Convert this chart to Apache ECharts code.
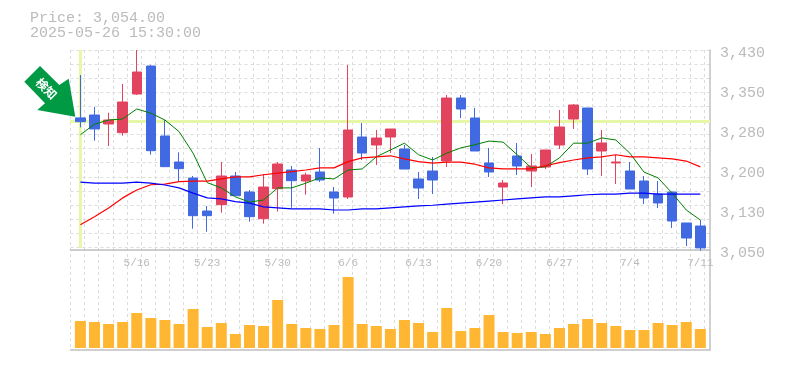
<!DOCTYPE html>
<html>
<head>
<meta charset="utf-8">
<script src="https://cdn.jsdelivr.net/npm/echarts@6/dist/echarts.min.js"></script>
<style>html,body{margin:0;padding:0;background:#fff}#c{width:785px;height:370px}</style>
</head>
<body>
<div id="c"></div>
<script>
const dates = ['5/12','5/13','5/14','5/15','5/16','5/19','5/20','5/21','5/22','5/23','5/26','5/27','5/28','5/29','5/30','6/2','6/3','6/4','6/5','6/6','6/9','6/10','6/11','6/12','6/13','6/16','6/17','6/18','6/19','6/20','6/23','6/24','6/25','6/26','6/27','6/30','7/1','7/2','7/3','7/4','7/7','7/8','7/9','7/10','7/11'];
const opens  = [3301,3306.5,3289.4,3272.9,3346.4,3399.6,3266.6,3217.2,3186.8,3124.1,3136.1,3190.6,3160.2,3109.5,3166.5,3202,3181.1,3198.2,3160.2,3150.7,3264.7,3249.5,3264.7,3241.9,3184.9,3200.1,3219.1,3338.8,3300.8,3215.3,3169.7,3228.6,3200.1,3207.7,3249.5,3298.9,3319.8,3238.1,3215.3,3200.1,3181.1,3156.4,3160.2,3101.3,3095.6];
const closes = [3293.8,3280,3297,3331.2,3388.2,3238.7,3208.3,3204.5,3115.2,3115.2,3190.6,3153.2,3113.3,3169.7,3213.4,3181.7,3192.5,3183,3148.8,3278,3234.3,3262.8,3279.9,3203.9,3167.8,3183,3338.8,3317.9,3238.1,3198.2,3177.3,3209.6,3209.6,3240,3283.7,3325.5,3203.9,3253.3,3217.2,3165.9,3148.8,3139.3,3105.1,3072.8,3054];
const lows   = [3283,3257.7,3247.6,3267.2,3344.5,3231.1,3208.3,3179.8,3090.5,3084.8,3120.9,3153.2,3103.8,3100,3122.8,3130.4,3155.1,3179.2,3119,3146.9,3221,3211.5,3234.3,3203.9,3146.9,3156.4,3207.7,3300.8,3238.1,3188.7,3137.4,3192.5,3169.7,3203.9,3241.9,3279.9,3192.5,3190.6,3175.4,3165.9,3137.4,3129.8,3091.8,3057.6,3048.7];
const highs  = [3382.5,3321.7,3310.9,3365.4,3430,3401.5,3297,3235.6,3190.6,3133.6,3217.2,3198.2,3164,3194.4,3217.2,3209.6,3196.9,3243.8,3169.7,3401.5,3291.3,3278,3279.9,3249.5,3198.2,3226.7,3344.5,3344.5,3319.8,3243.8,3183,3253.3,3232.4,3240,3316,3327.4,3319.8,3278,3230.5,3217.2,3190.6,3181.1,3160.2,3101.3,3107];
const maShort = [3269,3289,3297,3299,3318,3310,3297,3275,3234,3178,3168,3151,3141,3145,3168,3168,3177,3187,3185,3202,3204,3227,3240,3253,3231,3221,3234,3244,3250,3257,3255,3231,3206,3208,3225,3253,3253,3263,3259,3234,3198,3187,3158,3126,3107];
const maMid = [3098,3113,3130,3149,3164,3174,3175,3180,3181,3181,3185,3189,3189,3193,3196,3199,3202,3206,3206,3218,3225,3227,3229,3223,3218,3215,3217,3217,3213,3206,3204,3204,3204,3210,3216,3221,3225,3227,3231,3227,3227,3225,3223,3219,3208];
const maLong = [3179,3177,3177,3177,3179,3177,3173.5,3168,3158,3149,3147,3142,3139,3132,3130,3128,3128,3128,3126,3126,3128,3128,3130,3132,3134,3135,3137,3139,3141,3143,3145,3147,3149,3151,3151,3153,3155,3156,3156,3158,3158,3156,3156,3156,3156];
const volumes = [27,26,24,26,35,30,28,24,39,21,25,14,23,22,48,24,20,19,23,71,24,22,19,28,25,16,40,17,20,33,16,15,16,14,20,24,29,25,22,18,18,25,23,26,19];
const priceTicks = [3050,3126,3202,3278,3354,3430];
const priceTickLabels = ['3,050','3,130','3,200','3,280','3,350','3,430'];
const infoPrice = 'Price: 3,054.00';
const infoTime = '2025-05-26 15:30:00';
const detectLabel = '検知';
const crossPrice = 3294;
const crossIndex = 0;

const MONO = '"Liberation Mono","DejaVu Sans Mono",monospace';
const GRAY = '#c0c0c0';
const TXT = '#bbbbbb';
const RED = '#e2435f';
const BLUE = '#4169e1';
const dashLine = {show:true,lineStyle:{color:'#dcdcdc',type:[3,3],width:1}};
const band = 14.09, n = dates.length;
const hidden = {show:false};
const ohlc = dates.map((_,i)=>[opens[i],closes[i],lows[i],highs[i]]);

const chart = echarts.init(document.getElementById('c'),null,{renderer:'canvas'});
chart.setOption({
  animation:false,
  backgroundColor:'#fff',
  grid:[
    {left:73.35,top:50,width:band*n,height:200},
    {left:73.35,top:260,width:band*n,height:88},
    {left:70.5,top:50,width:band*n,height:300},
    {left:70.5,top:50,width:639.5,height:200},
    {left:70.5,top:50,width:639.5,height:300}
  ],
  xAxis:[
    {type:'category',gridIndex:0,data:dates,boundaryGap:true,axisLine:hidden,axisTick:hidden,splitLine:hidden,
     axisLabel:{show:true,color:TXT,fontFamily:MONO,fontSize:11,margin:8,
       interval:(i)=>i%5===4}},
    {type:'category',gridIndex:1,data:dates,axisLine:hidden,axisTick:hidden,splitLine:hidden,axisLabel:hidden},
    {type:'category',gridIndex:2,data:dates,axisLine:hidden,axisTick:hidden,axisLabel:hidden,
     splitLine:Object.assign({interval:0},dashLine)},
    {type:'value',gridIndex:3,min:0,max:1,axisTick:hidden,axisLabel:hidden,splitLine:hidden,
     axisLine:{show:true,onZero:false,lineStyle:{color:GRAY,width:1.5}}},
    {type:'value',gridIndex:4,min:0,max:1,axisTick:hidden,axisLabel:hidden,splitLine:hidden,
     axisLine:{show:true,onZero:false,lineStyle:{color:GRAY,width:1.5}}}
  ],
  yAxis:[
    {type:'value',gridIndex:0,min:3050,max:3430,interval:76,position:'right',axisLine:hidden,axisTick:hidden,splitLine:hidden,axisLabel:hidden},
    {type:'value',gridIndex:1,min:0,max:88,axisLine:hidden,axisTick:hidden,splitLine:hidden,axisLabel:hidden},
    {type:'value',gridIndex:2,min:0,max:1,axisLine:hidden,axisTick:hidden,splitLine:hidden,axisLabel:hidden},
    {type:'value',gridIndex:3,inverse:true,min:0,max:200/band,interval:1,axisLine:hidden,axisTick:hidden,axisLabel:hidden,splitLine:dashLine},
    {type:'value',gridIndex:4,position:'right',min:0,max:1,axisTick:hidden,axisLabel:hidden,splitLine:hidden,
     axisLine:{show:true,onZero:false,lineStyle:{color:GRAY,width:1.5}}}
  ],
  series:[
    {type:'candlestick',xAxisIndex:0,yAxisIndex:0,data:ohlc,barWidth:10,clip:false,z:3,
     itemStyle:{color:RED,color0:BLUE,borderColor:RED,borderColor0:BLUE,borderWidth:1}},
    {type:'line',xAxisIndex:0,yAxisIndex:0,data:maShort,showSymbol:false,z:4,lineStyle:{color:'#008000',width:1}},
    {type:'line',xAxisIndex:0,yAxisIndex:0,data:maMid,showSymbol:false,z:4,lineStyle:{color:'#ff0000',width:1.2}},
    {type:'line',xAxisIndex:0,yAxisIndex:0,data:maLong,showSymbol:false,z:4,lineStyle:{color:'#0000ff',width:1.2}},
    {type:'bar',xAxisIndex:1,yAxisIndex:1,data:volumes,barWidth:11,z:3,itemStyle:{color:'#ffb733'}}
  ]
});
const cx = chart.convertToPixel({xAxisIndex:0},crossIndex);
const cy = chart.convertToPixel({yAxisIndex:0},crossPrice);
const priceX = 720;
chart.setOption({
  graphic:[
  {type:'line',z:1,shape:{x1:70,y1:cy,x2:710,y2:cy},style:{stroke:'#e6f7a8',lineWidth:3}},
  {type:'line',z:1,shape:{x1:cx,y1:50,x2:cx,y2:248},style:{stroke:'#e6f7a8',lineWidth:3}},
  {type:'text',z:10,left:30,top:11,style:{text:infoPrice,font:'15px '+MONO,fill:TXT}},
  {type:'text',z:10,left:30,top:26,style:{text:infoTime,font:'15px '+MONO,fill:TXT}},
  {type:'polygon',z:10,shape:{points:[[24.3,81.7],[40,66],[59.3,85],[68.7,78.7],[75.3,116.7],[37.3,110],[45,103.3]]},style:{fill:'#009944'}},
  {type:'text',z:11,x:46.5,y:88.5,rotation:-Math.PI/4,style:{text:detectLabel,font:'bold 12px "Noto Sans CJK JP"',fill:'#fff',align:'center',verticalAlign:'middle'}}
].concat(priceTicks.map((p,i)=>({type:'text',z:10,x:priceX,y:chart.convertToPixel({yAxisIndex:0},p)+3,
   style:{text:priceTickLabels[i],font:'15px '+MONO,fill:TXT,align:'left',verticalAlign:'middle'}})))
});
</script>
</body>
</html>
